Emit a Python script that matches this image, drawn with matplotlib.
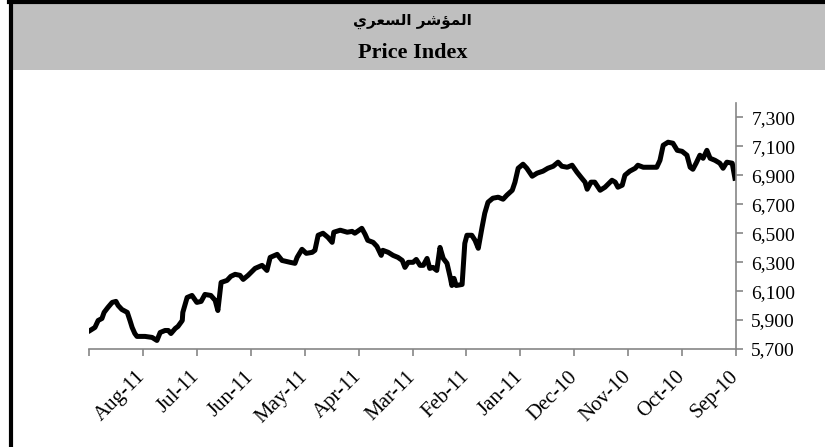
import matplotlib
matplotlib.use("Agg")
import matplotlib.pyplot as plt
from matplotlib.patches import Rectangle
from matplotlib.lines import Line2D
from matplotlib.ticker import FuncFormatter

# Titles
title_ar = "المؤشر السعري"
title_en = "Price Index"

# Month tick labels (axis runs right-to-left: Sep-10 at the right edge)
month_labels = ["Sep-10", "Oct-10", "Nov-10", "Dec-10", "Jan-11", "Feb-11",
                "Mar-11", "Apr-11", "May-11", "Jun-11", "Jul-11", "Aug-11", ""]

# Series: months elapsed since Sep-10, index level
months = [0.02, 0.07, 0.17, 0.24, 0.30, 0.39, 0.48, 0.54, 0.61, 0.67, 0.74, 0.80,
          0.85, 0.91, 1.00, 1.09, 1.17, 1.26, 1.35, 1.41, 1.47, 1.72, 1.82, 1.87,
          1.97, 2.06, 2.11, 2.19, 2.24, 2.30, 2.43, 2.52, 2.62, 2.69, 2.76, 2.80,
          2.86, 2.95, 3.04, 3.13, 3.23, 3.30, 3.39, 3.49, 3.58, 3.69, 3.78, 3.88,
          3.95, 4.04, 4.10, 4.15, 4.25, 4.32, 4.41, 4.51, 4.60, 4.66, 4.71, 4.78,
          4.84, 4.90, 4.99, 5.03, 5.08, 5.19, 5.23, 5.27, 5.30, 5.36, 5.43, 5.49,
          5.55, 5.62, 5.68, 5.73, 5.80, 5.86, 5.93, 5.99, 6.08, 6.14, 6.19, 6.27,
          6.36, 6.45, 6.55, 6.58, 6.66, 6.73, 6.83, 6.88, 6.94, 7.07, 7.12, 7.21,
          7.34, 7.46, 7.49, 7.57, 7.66, 7.75, 7.81, 7.86, 7.97, 8.05, 8.14, 8.18,
          8.27, 8.42, 8.51, 8.64, 8.70, 8.79, 8.92, 9.05, 9.14, 9.20, 9.29, 9.37,
          9.44, 9.55, 9.61, 9.66, 9.74, 9.85, 9.92, 10.00, 10.09, 10.18, 10.26, 10.27,
          10.35, 10.40, 10.48, 10.53, 10.59, 10.68, 10.74, 10.83, 10.96, 11.11, 11.15, 11.20,
          11.24, 11.29, 11.39, 11.46, 11.50, 11.57, 11.65, 11.72, 11.76, 11.83, 11.89, 11.98]
index_values = [6880, 6984, 6991, 6949, 6984, 7004, 7018, 7073, 7018, 7039, 6984, 6942,
                6956, 7039, 7066, 7073, 7122, 7129, 7108, 7004, 6956, 6956, 6970, 6949,
                6929, 6901, 6832, 6818, 6853, 6866, 6818, 6797, 6853, 6853, 6804, 6853,
                6880, 6922, 6970, 6956, 6963, 6991, 6963, 6949, 6929, 6915, 6894, 6949,
                6977, 6949, 6852, 6797, 6763, 6735, 6749, 6742, 6714, 6638, 6541, 6396,
                6451, 6486, 6486, 6430, 6146, 6139, 6188, 6139, 6195, 6292, 6326, 6402,
                6243, 6264, 6257, 6326, 6278, 6278, 6319, 6299, 6299, 6264, 6312, 6333,
                6347, 6368, 6382, 6347, 6409, 6437, 6451, 6493, 6534, 6500, 6513, 6507,
                6521, 6507, 6437, 6472, 6500, 6486, 6382, 6368, 6361, 6389, 6333, 6292,
                6299, 6312, 6354, 6333, 6243, 6278, 6257, 6209, 6181, 6209, 6216, 6202,
                6174, 6160, 5966, 6036, 6070, 6077, 6029, 6022, 6070, 6056, 5953, 5897,
                5856, 5842, 5807, 5828, 5828, 5814, 5759, 5780, 5787, 5787, 5807, 5849,
                5897, 5953, 5973, 6001, 6029, 6022, 5987, 5953, 5911, 5897, 5849, 5828]

y_ticks = [5700, 5900, 6100, 6300, 6500, 6700, 6900, 7100, 7300]


def shape_arabic(text):
    # minimal contextual shaping for the letters used in the title
    forms = {
        "ا": (0xFE8D, 0xFE8E, 0xFE8D, 0xFE8E),
        "ل": (0xFEDD, 0xFEDE, 0xFEDF, 0xFEE0),
        "م": (0xFEE1, 0xFEE2, 0xFEE3, 0xFEE4),
        "ؤ": (0xFE85, 0xFE86, 0xFE85, 0xFE86),
        "ش": (0xFEB5, 0xFEB6, 0xFEB7, 0xFEB8),
        "ر": (0xFEAD, 0xFEAE, 0xFEAD, 0xFEAE),
        "س": (0xFEB1, 0xFEB2, 0xFEB3, 0xFEB4),
        "ع": (0xFEC9, 0xFECA, 0xFECB, 0xFECC),
        "ي": (0xFEF1, 0xFEF2, 0xFEF3, 0xFEF4),
    }
    right_only = set("اؤرد ذزو")
    out = []
    for i, ch in enumerate(text):
        if ch not in forms:
            out.append(ch)
            continue
        prev = text[i - 1] if i > 0 else " "
        nxt = text[i + 1] if i + 1 < len(text) else " "
        join_prev = prev in forms and prev not in right_only
        join_next = nxt in forms and ch not in right_only
        if join_prev and join_next:
            code = forms[ch][3]
        elif join_prev:
            code = forms[ch][1]
        elif join_next:
            code = forms[ch][2]
        else:
            code = forms[ch][0]
        out.append(chr(code))
    return "".join(reversed(out))


fig = plt.figure(figsize=(8.25, 4.47), dpi=100)
fig.patch.set_facecolor("white")

# grey header band and black frame edges
fig.add_artist(Rectangle((11 / 825, 377 / 447), 814 / 825, 67 / 447,
                         transform=fig.transFigure, facecolor="#bfbfbf", edgecolor="none"))
fig.add_artist(Line2D([11 / 825, 11 / 825], [0, 1], transform=fig.transFigure,
                      color="black", linewidth=3))
fig.add_artist(Line2D([9 / 825, 1], [445.5 / 447, 445.5 / 447], transform=fig.transFigure,
                      color="black", linewidth=3))

fig.text(0.5, 426 / 447, shape_arabic(title_ar), ha="center", va="center",
         fontsize=11, fontweight="bold", family=["DejaVu Sans"])
fig.text(0.5, 394 / 447, title_en, ha="center", va="center",
         fontsize=16, fontweight="bold", family=["Liberation Serif"])

ax = fig.add_axes([89 / 825, 98 / 447, 647 / 825, 246 / 447])
ax.plot(months, index_values, color="black", linewidth=3.6, solid_joinstyle="round")

ax.set_xlim(12, 0)
ax.set_ylim(5700, 7400)
ax.set_xticks(range(len(month_labels)))
ax.set_xticklabels(month_labels, rotation=45, ha="right", va="center",
                   rotation_mode="anchor", family="Liberation Serif", fontsize=15)
ax.set_yticks(y_ticks)
ax.yaxis.set_major_formatter(FuncFormatter(lambda v, p: f"{v:,.0f}"))
ax.yaxis.tick_right()
for lab in ax.get_yticklabels():
    lab.set_family("Liberation Serif")
    lab.set_fontsize(14)

grey = "#868686"
for side in ["left", "top"]:
    ax.spines[side].set_visible(False)
for side in ["right", "bottom"]:
    ax.spines[side].set_color(grey)
    ax.spines[side].set_linewidth(1.2)
ax.tick_params(axis="both", direction="out", length=5, width=1.2, color=grey,
               labelcolor="black")
ax.tick_params(axis="y", pad=6)
ax.tick_params(axis="x", pad=13)

fig.savefig("out.png", dpi=100)
